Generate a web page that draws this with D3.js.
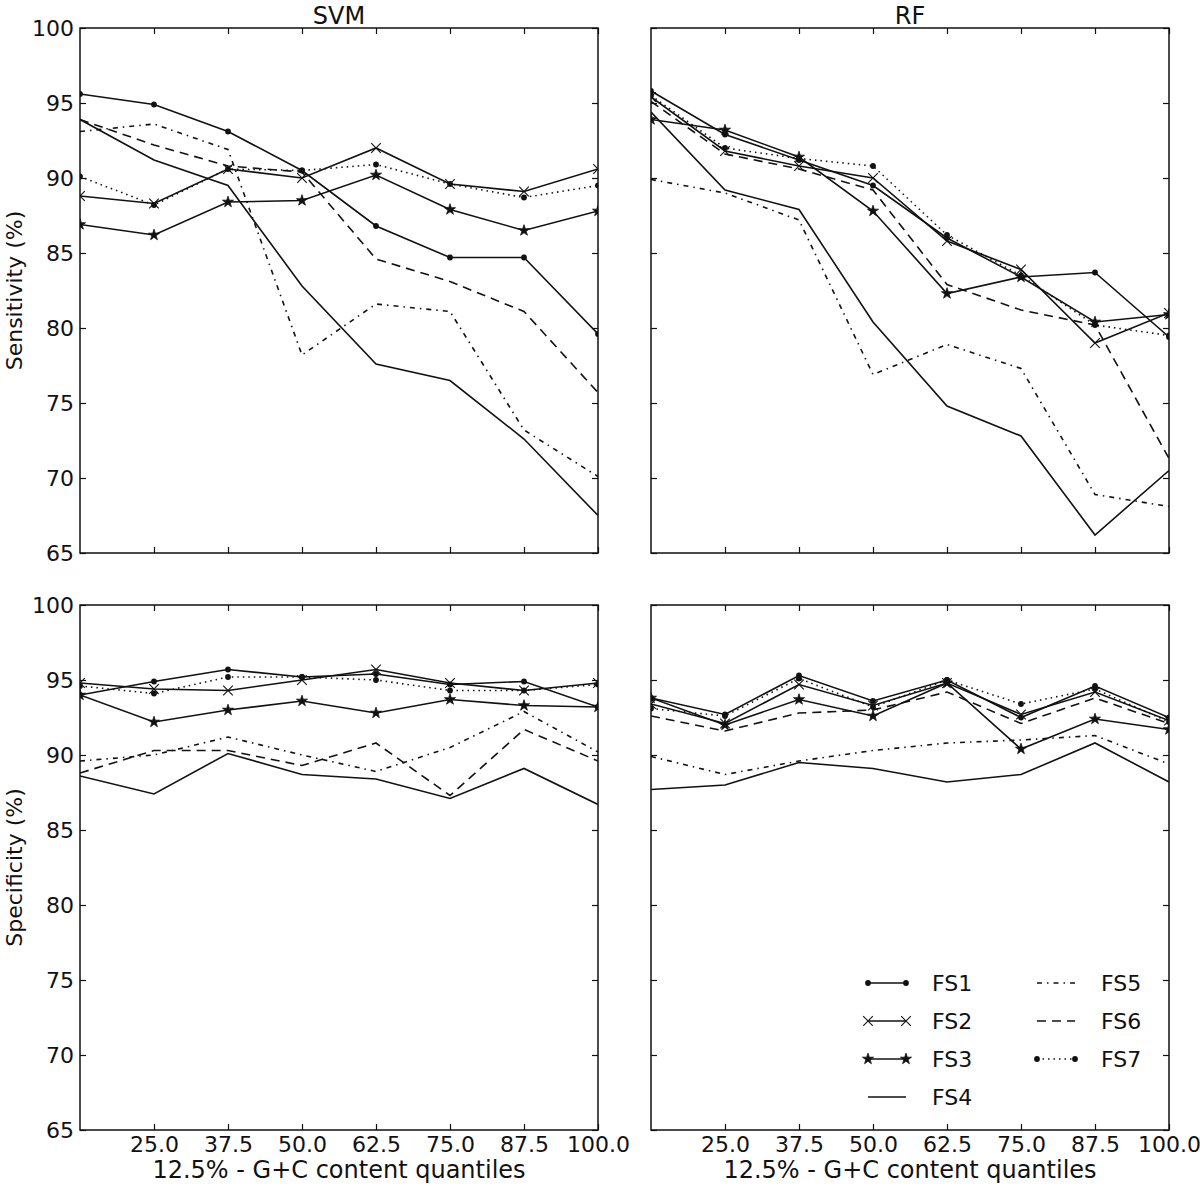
<!DOCTYPE html>
<html>
<head>
<meta charset="utf-8">
<script src="https://cdn.jsdelivr.net/npm/d3@7"></script>
<style>
  html, body { margin: 0; padding: 0; background: #fff; }
  text { font-family: "DejaVu Sans", sans-serif; fill: #111; }
</style>
</head>
<body>
<svg id="chart" width="1200" height="1186"></svg>
<script>
// ---------------- data ----------------
const quantiles = [12.5, 25, 37.5, 50, 62.5, 75, 87.5, 100];
const xTickValues = [25, 37.5, 50, 62.5, 75, 87.5, 100];
const yTickValues = [65, 70, 75, 80, 85, 90, 95, 100];
const seriesNames = ["FS1", "FS2", "FS3", "FS4", "FS5", "FS6", "FS7"];
const columnTitles = ["SVM", "RF"];
const rowLabels = ["Sensitivity (%)", "Specificity (%)"];
const xAxisTitle = "12.5% - G+C content quantiles";

// rows follow seriesNames order FS1..FS7
const svmSensitivity = [
  [95.6, 94.9, 93.1, 90.5, 86.8, 84.7, 84.7, 79.6],
  [88.8, 88.3, 90.6, 90.0, 92.0, 89.6, 89.1, 90.6],
  [86.9, 86.2, 88.4, 88.5, 90.2, 87.9, 86.5, 87.8],
  [93.9, 91.2, 89.5, 82.8, 77.6, 76.5, 72.6, 67.5],
  [93.1, 93.6, 91.9, 78.2, 81.6, 81.1, 73.2, 70.1],
  [93.9, 92.2, 90.8, 90.4, 84.6, 83.1, 81.1, 75.7],
  [90.1, 88.2, 90.6, 90.5, 90.9, 89.6, 88.7, 89.5]
];
const rfSensitivity = [
  [95.8, 92.9, 91.2, 89.5, 86.0, 83.4, 83.7, 79.4],
  [95.4, 91.8, 90.8, 90.0, 85.8, 83.9, 79.0, 81.0],
  [93.9, 93.2, 91.4, 87.8, 82.3, 83.4, 80.4, 80.9],
  [94.4, 89.2, 87.9, 80.4, 74.8, 72.8, 66.2, 70.5],
  [89.9, 89.0, 87.2, 76.9, 78.9, 77.3, 68.9, 68.1],
  [95.1, 91.6, 90.6, 89.2, 82.9, 81.2, 80.2, 71.3],
  [95.5, 92.0, 91.3, 90.8, 86.2, 83.5, 80.2, 79.5]
];
const svmSpecificity = [
  [94.0, 94.9, 95.7, 95.2, 95.4, 94.7, 94.9, 93.2],
  [94.8, 94.4, 94.3, 95.0, 95.7, 94.8, 94.3, 94.8],
  [94.0, 92.2, 93.0, 93.6, 92.8, 93.7, 93.3, 93.2],
  [88.6, 87.4, 90.1, 88.7, 88.4, 87.1, 89.1, 86.7],
  [89.6, 90.0, 91.2, 90.0, 88.9, 90.5, 92.9, 90.2],
  [88.8, 90.3, 90.3, 89.3, 90.8, 87.3, 91.7, 89.6],
  [94.6, 94.1, 95.2, 95.2, 95.0, 94.3, 94.3, 94.7]
];
const rfSpecificity = [
  [93.8, 92.7, 95.3, 93.6, 95.0, 92.5, 94.6, 92.5],
  [93.4, 92.1, 94.7, 93.3, 94.8, 92.7, 94.2, 92.3],
  [93.8, 92.0, 93.7, 92.6, 94.8, 90.4, 92.4, 91.7],
  [87.7, 88.0, 89.5, 89.1, 88.2, 88.7, 90.8, 88.2],
  [89.9, 88.7, 89.6, 90.3, 90.8, 91.0, 91.3, 89.4],
  [92.6, 91.6, 92.8, 93.0, 94.2, 92.1, 93.8, 92.1],
  [93.1, 92.6, 95.1, 93.2, 95.0, 93.4, 94.4, 92.2]
];

// ---------------- styles ----------------
const styles = {
  FS1: { dash: null, marker: "dot" },
  FS2: { dash: null, marker: "x" },
  FS3: { dash: null, marker: "star" },
  FS4: { dash: null, marker: null },
  FS5: { dash: "5,5,1.5,5", marker: null },
  FS6: { dash: "9,6", marker: null },
  FS7: { dash: "1.5,4", marker: "dot" }
};
const ink = "#111";
const lineW = 1.6;

const svg = d3.select("#chart");
const panelW = 518, panelH = 525;
const panels = [
  { data: svmSensitivity, left: 80, top: 28, col: 0, row: 0 },
  { data: rfSensitivity, left: 651, top: 28, col: 1, row: 0 },
  { data: svmSpecificity, left: 80, top: 605, col: 0, row: 1 },
  { data: rfSpecificity, left: 651, top: 605, col: 1, row: 1 }
];

const starSym = d3.symbol().type(d3.symbolStar).size(38);

function drawMarker(g, kind, x, y) {
  if (kind === "dot") {
    g.append("circle").attr("cx", x).attr("cy", y).attr("r", 2.9).attr("fill", ink);
  } else if (kind === "x") {
    const s = 4.8;
    g.append("path")
      .attr("d", `M${x - s},${y - s}L${x + s},${y + s}M${x - s},${y + s}L${x + s},${y - s}`)
      .attr("stroke", ink).attr("stroke-width", 1.1).attr("fill", "none");
  } else if (kind === "star") {
    g.append("path").attr("d", starSym()).attr("transform", `translate(${x},${y})`)
      .attr("fill", ink).attr("stroke", ink).attr("stroke-width", 0.8);
  }
}

panels.forEach((p, pi) => {
  const x = d3.scaleLinear().domain([12.5, 100]).range([0, panelW]);
  const y = d3.scaleLinear().domain([65, 100]).range([panelH, 0]);
  const g = svg.append("g").attr("transform", `translate(${p.left},${p.top})`);

  const clipId = "clip" + pi;
  g.append("clipPath").attr("id", clipId)
    .append("rect").attr("x", 0).attr("y", 0).attr("width", panelW).attr("height", panelH);

  // axes with inward ticks on all four sides
  const tickLen = 6;
  const bottom = d3.axisBottom(x).tickValues(xTickValues).tickSizeInner(-tickLen).tickSizeOuter(0)
    .tickFormat(p.row === 1 ? d3.format(".1f") : () => "").tickPadding(6);
  const top = d3.axisTop(x).tickValues(xTickValues).tickSizeInner(-tickLen).tickSizeOuter(0).tickFormat(() => "");
  const leftAx = d3.axisLeft(y).tickValues(yTickValues).tickSizeInner(-tickLen).tickSizeOuter(0)
    .tickFormat(p.col === 0 ? d3.format("d") : () => "").tickPadding(6);
  const rightAx = d3.axisRight(y).tickValues(yTickValues).tickSizeInner(-tickLen).tickSizeOuter(0).tickFormat(() => "");

  const axes = [
    g.append("g").attr("transform", `translate(0,${panelH})`).call(bottom),
    g.append("g").call(top),
    g.append("g").call(leftAx),
    g.append("g").attr("transform", `translate(${panelW},0)`).call(rightAx)
  ];
  axes.forEach(a => {
    a.select(".domain").remove();
    a.selectAll(".tick line").attr("stroke", ink).attr("stroke-width", 1.2);
    a.selectAll(".tick text").attr("font-size", 22).attr("font-family", "DejaVu Sans, sans-serif").attr("fill", ink);
  });

  // series
  const lineGen = d3.line().x((d, i) => x(quantiles[i])).y(d => y(d));
  const plot = g.append("g").attr("clip-path", `url(#${clipId})`);
  p.data.forEach((vals, si) => {
    const st = styles[seriesNames[si]];
    plot.append("path").datum(vals).attr("d", lineGen)
      .attr("fill", "none").attr("stroke", ink).attr("stroke-width", lineW)
      .attr("stroke-linejoin", "miter")
      .attr("stroke-dasharray", st.dash);
  });
  p.data.forEach((vals, si) => {
    const st = styles[seriesNames[si]];
    if (!st.marker) return;
    vals.forEach((v, i) => drawMarker(plot, st.marker, x(quantiles[i]), y(v)));
  });

  // frame
  g.append("rect").attr("x", 0).attr("y", 0).attr("width", panelW).attr("height", panelH)
    .attr("fill", "none").attr("stroke", ink).attr("stroke-width", 1.5);

  if (p.row === 0) {
    g.append("text").attr("x", panelW / 2).attr("y", -4).attr("text-anchor", "middle")
      .attr("font-size", 24).text(columnTitles[p.col]);
  }
  if (p.row === 1) {
    g.append("text").attr("x", panelW / 2).attr("y", panelH + 48).attr("text-anchor", "middle")
      .attr("font-size", 24).text(xAxisTitle);
  }
  if (p.col === 0) {
    g.append("text").attr("transform", `translate(${-58},${panelH / 2}) rotate(-90)`)
      .attr("text-anchor", "middle").attr("font-size", 22).text(rowLabels[p.row]);
  }

  // legend in bottom-right panel
  if (p.row === 1 && p.col === 1) {
    const lg = g.append("g").attr("transform", `translate(${868 - p.left},${983 - p.top})`);
    seriesNames.forEach((name, si) => {
      const colI = si < 4 ? 0 : 1;
      const rowI = si < 4 ? si : si - 4;
      const ox = colI * 169, oy = rowI * 38;
      const st = styles[name];
      lg.append("line").attr("x1", ox).attr("x2", ox + 38).attr("y1", oy).attr("y2", oy)
        .attr("stroke", ink).attr("stroke-width", lineW).attr("stroke-dasharray", st.dash);
      if (st.marker) {
        drawMarker(lg, st.marker, ox, oy);
        drawMarker(lg, st.marker, ox + 38, oy);
      }
      lg.append("text").attr("x", ox + 64).attr("y", oy).attr("dy", "0.36em")
        .attr("font-size", 22).text(name);
    });
  }
});
</script>
</body>
</html>
